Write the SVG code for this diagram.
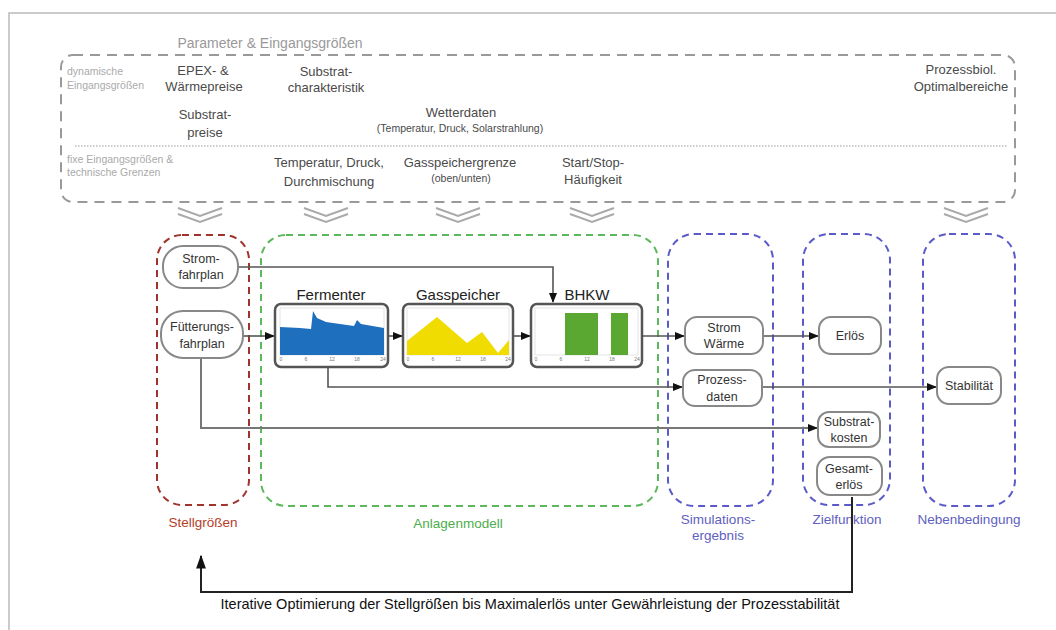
<svg xmlns="http://www.w3.org/2000/svg" width="1056" height="630" viewBox="0 0 1056 630">
<style>
text{font-family:"Liberation Sans",Arial,sans-serif}
.t{font-size:13px;fill:#4a4a4a;text-anchor:middle}
.ts{font-size:10.5px;fill:#4a4a4a;text-anchor:middle}
.tg{font-size:10.5px;fill:#aaa}
.col{fill:none;stroke-width:2;stroke-dasharray:7 5}
.chev{fill:none;stroke:#aaa;stroke-width:2}
.node rect{fill:#fff;stroke:#888;stroke-width:2}
.nt{font-size:12.5px;fill:#333;text-anchor:middle}
.box{fill:#fff;stroke:#555;stroke-width:2.5}
.bt{font-size:15px;fill:#222;text-anchor:middle}
.ax{font-size:5px;fill:#777;text-anchor:middle}
.plot{fill:none;stroke:#ddd;stroke-width:0.8}
.cl{font-size:13.5px;text-anchor:middle}
.ln{fill:none;stroke:#555;stroke-width:1.6}
</style>
<defs>
<marker id="ah" markerWidth="10" markerHeight="8" refX="9" refY="4" orient="auto" markerUnits="userSpaceOnUse">
<path d="M0,0 L10,4 L0,8 Z" fill="#111"/>
</marker>
<marker id="big" markerWidth="14" markerHeight="20" refX="18" refY="7" orient="auto" markerUnits="userSpaceOnUse" viewBox="0 0 20 14">
<path d="M0,0 L20,7 L0,14 Z" fill="#111"/>
</marker>
</defs>
<rect width="1056" height="630" fill="#fff"/>
<path d="M9,630 V13 H1056" fill="none" stroke="#bbb" stroke-width="1.5"/>

<g id="parameter">
<text x="270" y="48" fill="#999" text-anchor="middle" style="font-size:14px">Parameter &amp; Eingangsgrößen</text>
<rect x="61" y="55" width="954" height="147" rx="12" fill="none" stroke="#999" stroke-width="2" stroke-dasharray="10 7"/>
<line x1="75" y1="146" x2="1008" y2="146" stroke="#999" stroke-width="1.2" stroke-dasharray="1.5 1.5"/>
<text class="tg" x="67" y="75">dynamische</text>
<text class="tg" x="67" y="89">Eingangsgrößen</text>
<text class="tg" x="67" y="163">fixe Eingangsgrößen &amp;</text>
<text class="tg" x="67" y="176">technische Grenzen</text>
<text class="t" x="203" y="75">EPEX- &amp;</text>
<text class="t" x="204" y="91">Wärmepreise</text>
<text class="t" x="205" y="119">Substrat-</text>
<text class="t" x="205" y="137">preise</text>
<text class="t" x="326" y="76">Substrat-</text>
<text class="t" x="326" y="92">charakteristik</text>
<text class="t" x="461" y="117">Wetterdaten</text>
<text class="ts" x="460" y="132">(Temperatur, Druck, Solarstrahlung)</text>
<text class="t" x="961" y="74">Prozessbiol.</text>
<text class="t" x="961" y="91">Optimalbereiche</text>
<text class="t" x="329" y="167">Temperatur, Druck,</text>
<text class="t" x="329" y="186">Durchmischung</text>
<text class="t" x="460" y="167">Gasspeichergrenze</text>
<text class="ts" x="461" y="182">(oben/unten)</text>
<text class="t" x="593" y="167">Start/Stop-</text>
<text class="t" x="593" y="184">Häufigkeit</text>
</g>

<g id="chevrons">
<path class="chev" d="M178,208 L200,216 L222,208 M178,214 L200,222 L222,214"/>
<path class="chev" d="M304,208 L326,216 L348,208 M304,214 L326,222 L348,214"/>
<path class="chev" d="M436,208 L458,216 L480,208 M436,214 L458,222 L480,214"/>
<path class="chev" d="M570,208 L592,216 L614,208 M570,214 L592,222 L614,214"/>
<path class="chev" d="M944,208 L966,216 L988,208 M944,214 L966,222 L988,214"/>
</g>

<g id="columns">
<rect class="col" x="157" y="235" width="92" height="270" rx="25" stroke="#a0342c"/>
<rect class="col" x="261" y="235" width="397" height="271" rx="25" stroke="#5cb85c"/>
<rect class="col" x="668" y="234" width="105" height="272" rx="26" stroke="#5a5ac8"/>
<rect class="col" x="803" y="234" width="87" height="271" rx="26" stroke="#5a5ac8"/>
<rect class="col" x="923" y="234" width="92" height="272" rx="26" stroke="#5a5ac8"/>
<text class="cl" x="203" y="527" fill="#b5402a">Stellgrößen</text>
<text class="cl" x="458" y="528" fill="#4cae4c">Anlagenmodell</text>
<text class="cl" x="718" y="524" fill="#6060c0">Simulations-</text>
<text class="cl" x="718" y="540" fill="#6060c0">ergebnis</text>
<text class="cl" x="847" y="524" fill="#6060c0">Zielfunktion</text>
<text class="cl" x="969" y="524" fill="#6060c0">Nebenbedingung</text>
</g>

<g id="connectors">
<path class="ln" d="M238,267 H553 V302" marker-end="url(#ah)"/>
<path class="ln" d="M243,336 H274" marker-end="url(#ah)"/>
<path class="ln" d="M388,336 H402" marker-end="url(#ah)"/>
<path class="ln" d="M513,336 H530" marker-end="url(#ah)"/>
<path class="ln" d="M642,336 H684" marker-end="url(#ah)"/>
<path class="ln" d="M763,336 H818" marker-end="url(#ah)"/>
<path class="ln" d="M328,367 V387 H682" marker-end="url(#ah)"/>
<path class="ln" d="M762,387 H936" marker-end="url(#ah)"/>
<path d="M201,358 V428 H817" fill="none" stroke="#777" stroke-width="2" marker-end="url(#ah)"/>
<path d="M852,497 V592 H201 V556" fill="none" stroke="#222" stroke-width="2" marker-end="url(#big)"/>
<text x="530" y="609" fill="#111" text-anchor="middle" style="font-size:14.5px">Iterative Optimierung der Stellgrößen bis Maximalerlös unter Gewährleistung der Prozesstabilität</text>
</g>

<g id="stromfahrplan" class="node">
<rect x="163" y="246" width="75" height="42" rx="20"/>
<text class="nt" x="201" y="263">Strom-</text>
<text class="nt" x="201" y="279">fahrplan</text>
</g>
<g id="fuetterungsfahrplan" class="node">
<rect x="161" y="311" width="82" height="47" rx="22"/>
<text class="nt" x="202" y="331">Fütterungs-</text>
<text class="nt" x="202" y="348">fahrplan</text>
</g>

<g id="fermenter">
<text class="bt" x="331" y="300">Fermenter</text>
<rect class="box" x="275" y="304" width="113" height="63" rx="6"/>
<rect class="plot" x="280" y="308" width="104" height="47"/>
<path d="M280,355 L280,327 L300,328 L311,329 L313,311 L317,318 L326,322 L340,324 L354,326 L357,320 L361,324 L384,328 L384,355 Z" fill="#1f6fbf"/>
<text class="ax" x="281" y="361">0</text><text class="ax" x="306" y="361">6</text><text class="ax" x="332" y="361">12</text><text class="ax" x="357" y="361">18</text><text class="ax" x="383" y="361">24</text>
</g>

<g id="gasspeicher">
<text class="bt" x="458" y="300">Gasspeicher</text>
<rect class="box" x="403" y="304" width="110" height="63" rx="6"/>
<rect class="plot" x="407" y="308" width="102" height="47"/>
<path d="M407,355 L407,341 L437,317 L467,343 L482,332 L498,353 L509,340 L509,355 Z" fill="#f0dc00"/>
<text class="ax" x="408" y="361">0</text><text class="ax" x="433" y="361">6</text><text class="ax" x="458" y="361">12</text><text class="ax" x="483" y="361">18</text><text class="ax" x="508" y="361">24</text>
</g>

<g id="bhkw">
<text class="bt" x="587" y="300">BHKW</text>
<rect class="box" x="531" y="304" width="111" height="63" rx="6"/>
<rect class="plot" x="535" y="308" width="103" height="47"/>
<rect x="565" y="313" width="33" height="42" fill="#5aa832"/>
<rect x="611" y="313" width="17" height="42" fill="#5aa832"/>
<text class="ax" x="536" y="361">0</text><text class="ax" x="561" y="361">6</text><text class="ax" x="587" y="361">12</text><text class="ax" x="612" y="361">18</text><text class="ax" x="637" y="361">24</text>
</g>

<g id="stromwaerme" class="node">
<rect x="685" y="317" width="78" height="37" rx="12"/>
<text class="nt" x="724" y="332">Strom</text>
<text class="nt" x="724" y="348">Wärme</text>
</g>
<g id="prozessdaten" class="node">
<rect x="683" y="370" width="79" height="36" rx="12"/>
<text class="nt" x="722" y="384">Prozess-</text>
<text class="nt" x="722" y="401">daten</text>
</g>
<g id="erloes" class="node">
<rect x="819" y="317" width="62" height="37" rx="12"/>
<text class="nt" x="850" y="340">Erlös</text>
</g>
<g id="substratkosten" class="node">
<rect x="818" y="412" width="62" height="35" rx="11"/>
<text class="nt" x="849" y="426">Substrat-</text>
<text class="nt" x="849" y="442">kosten</text>
</g>
<g id="gesamterloes" class="node">
<rect x="817" y="457" width="65" height="38" rx="13"/>
<text class="nt" x="849" y="473">Gesamt-</text>
<text class="nt" x="849" y="489">erlös</text>
</g>
<g id="stabilitaet" class="node">
<rect x="937" y="367" width="64" height="37" rx="12"/>
<text class="nt" x="969" y="390">Stabilität</text>
</g>
</svg>
